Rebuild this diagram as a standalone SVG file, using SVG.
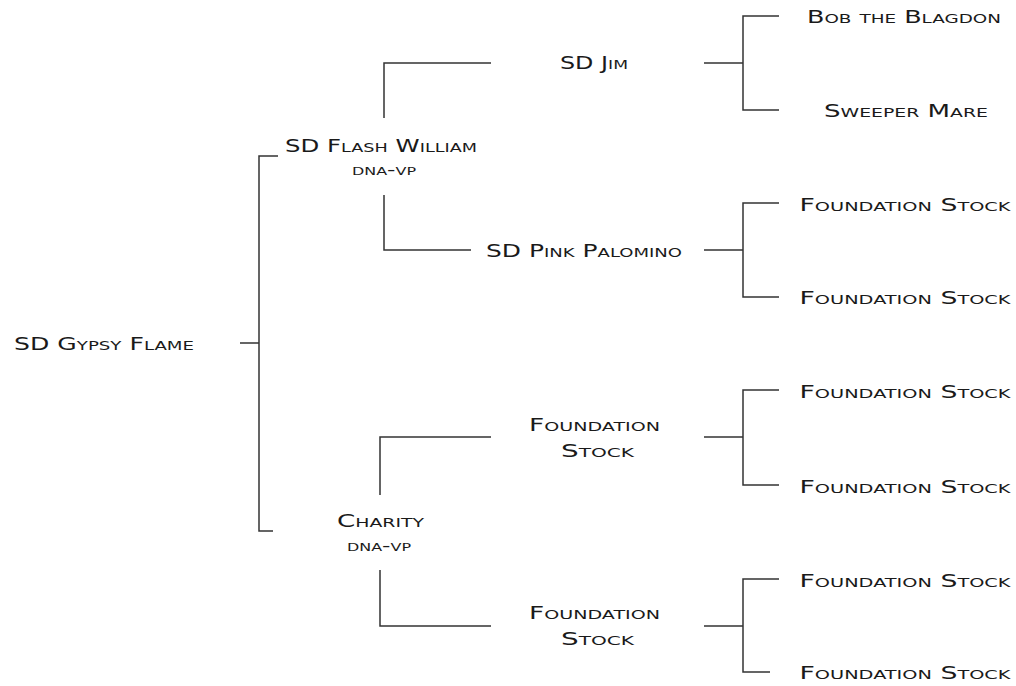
<svg xmlns="http://www.w3.org/2000/svg" width="1016" height="686" viewBox="0 0 1016 686">
<style>
text{font-family:"DejaVu Sans","Liberation Sans",sans-serif;font-size:18px;font-variant:small-caps;fill:#1a1a1a;text-anchor:middle}
text.sub{font-size:16px}
.c path{fill:none;stroke:#333;stroke-width:1.5}
</style>
<rect width="1016" height="686" fill="#fff"/>
<g class="c" id="connectors">
<path d="M240 343H259M278 156H259V531H273"/>
<path d="M491 63H384V118M384 195V250H471"/>
<path d="M491 437H380V495M380 570V626H491"/>
<path d="M704 63H743M779 16H743V110H779"/>
<path d="M704 250H743M779 203H743V297H779"/>
<path d="M704 437H743M779 390H743V485H779"/>
<path d="M704 626H743M779 579H743V672H770"/>
</g>
<g id="n-gypsy"><text x="104" y="350" textLength="180" lengthAdjust="spacingAndGlyphs">SD Gypsy Flame</text></g>
<g id="n-flash"><text x="381" y="152" textLength="192" lengthAdjust="spacingAndGlyphs">SD Flash William</text><text class="sub" x="384" y="175" textLength="64" lengthAdjust="spacingAndGlyphs">dna-vp</text></g>
<g id="n-charity"><text x="380.5" y="527" textLength="87" lengthAdjust="spacingAndGlyphs">Charity</text><text class="sub" x="379" y="551" textLength="64" lengthAdjust="spacingAndGlyphs">dna-vp</text></g>
<g id="n-jim"><text x="594" y="69" textLength="68" lengthAdjust="spacingAndGlyphs">SD Jim</text></g>
<g id="n-pink"><text x="584" y="257" textLength="196" lengthAdjust="spacingAndGlyphs">SD Pink Palomino</text></g>
<g id="n-fs1"><text x="594.5" y="431" textLength="131" lengthAdjust="spacingAndGlyphs">Foundation</text><text x="597.5" y="457" textLength="73" lengthAdjust="spacingAndGlyphs">Stock</text></g>
<g id="n-fs2"><text x="594.5" y="619" textLength="131" lengthAdjust="spacingAndGlyphs">Foundation</text><text x="597.5" y="645" textLength="73" lengthAdjust="spacingAndGlyphs">Stock</text></g>
<g id="n-bob"><text x="904" y="22.5" textLength="194" lengthAdjust="spacingAndGlyphs">Bob the Blagdon</text></g>
<g id="n-sweeper"><text x="906" y="116.5" textLength="164" lengthAdjust="spacingAndGlyphs">Sweeper Mare</text></g>
<g id="n-f1"><text x="905" y="210.5" textLength="211" lengthAdjust="spacingAndGlyphs">Foundation Stock</text></g>
<g id="n-f2"><text x="905" y="303.5" textLength="211" lengthAdjust="spacingAndGlyphs">Foundation Stock</text></g>
<g id="n-f3"><text x="905" y="397.5" textLength="211" lengthAdjust="spacingAndGlyphs">Foundation Stock</text></g>
<g id="n-f4"><text x="905" y="492.5" textLength="211" lengthAdjust="spacingAndGlyphs">Foundation Stock</text></g>
<g id="n-f5"><text x="905" y="586.5" textLength="211" lengthAdjust="spacingAndGlyphs">Foundation Stock</text></g>
<g id="n-f6"><text x="905" y="678.5" textLength="211" lengthAdjust="spacingAndGlyphs">Foundation Stock</text></g>
</svg>
